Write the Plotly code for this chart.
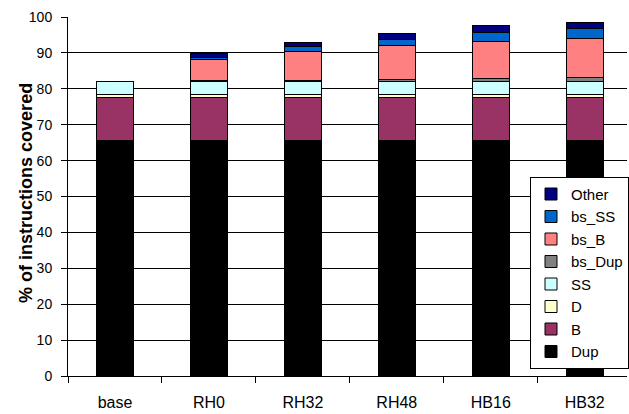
import plotly.graph_objects as go

# Benchmark configurations along the x axis
configs = ["base", "RH0", "RH32", "RH48", "HB16", "HB32"]

# Coverage contributed by each instruction class (% of instructions)
dup = [65.5, 65.5, 65.5, 65.5, 65.5, 65.5]
b = [12.1, 12.1, 12.1, 12.1, 12.1, 12.1]
d = [0.8, 0.8, 0.8, 0.8, 0.8, 0.8]
ss = [3.6, 3.6, 3.6, 3.6, 3.6, 3.6]
bs_dup = [0.0, 0.2, 0.3, 0.7, 0.8, 1.2]
bs_b = [0.0, 6.0, 8.0, 9.3, 10.4, 10.9]
bs_ss = [0.0, 0.5, 1.4, 1.8, 2.5, 2.7]
other = [0.0, 1.2, 1.1, 1.6, 1.8, 1.8]

series_names = ["Dup", "B", "D", "SS", "bs_Dup", "bs_B", "bs_SS", "Other"]
series_values = [dup, b, d, ss, bs_dup, bs_b, bs_ss, other]
series_colors = ["#000000", "#993366", "#FFFFCC", "#CCFFFF",
                 "#808080", "#FF8080", "#0066CC", "#000080"]

y_ticks = [0, 10, 20, 30, 40, 50, 60, 70, 80, 90, 100]

FONT = "Arial, 'Liberation Sans', sans-serif"

fig = go.Figure()
for name, vals, col in zip(series_names, series_values, series_colors):
    fig.add_trace(go.Bar(
        name=name, x=configs, y=vals,
        marker=dict(color=col, line=dict(color="#000000", width=1)),
    ))

fig.update_layout(
    width=629, height=414,
    margin=dict(l=68, r=0, t=17, b=38),
    barmode="stack", bargap=0.61,
    plot_bgcolor="white", paper_bgcolor="white",
    font=dict(family=FONT, color="#000000"),
    showlegend=True,
    legend=dict(
        x=0.827, y=0.555, xanchor="left", yanchor="top",
        traceorder="reversed",
        bgcolor="white", bordercolor="#000000", borderwidth=1,
        font=dict(size=15, family=FONT),
        tracegroupgap=0,
    ),
    xaxis=dict(
        range=[-0.5, 5.45],
        showline=True, linecolor="#000000", linewidth=1,
        ticks="outside", tickson="boundaries", ticklen=6,
        tickcolor="#000000",
        tickfont=dict(size=16, family=FONT),
        ticklabelstandoff=12,
        showgrid=False,
    ),
    yaxis=dict(
        range=[0, 100], tickvals=y_ticks,
        showline=True, linecolor="#000000", linewidth=1,
        ticks="outside", ticklen=6, tickcolor="#000000",
        tickfont=dict(size=14, family=FONT),
        ticklabelstandoff=6,
        showgrid=True, gridcolor="#000000", gridwidth=1,
        zeroline=False,
    ),
    annotations=[dict(
        text="<b>% of instructions covered</b>",
        xref="paper", yref="paper", x=0, y=0.51,
        xanchor="center", yanchor="middle", xshift=-42,
        textangle=-90, showarrow=False,
        font=dict(size=18, family=FONT),
    )],
)

fig.write_html("out.html")
